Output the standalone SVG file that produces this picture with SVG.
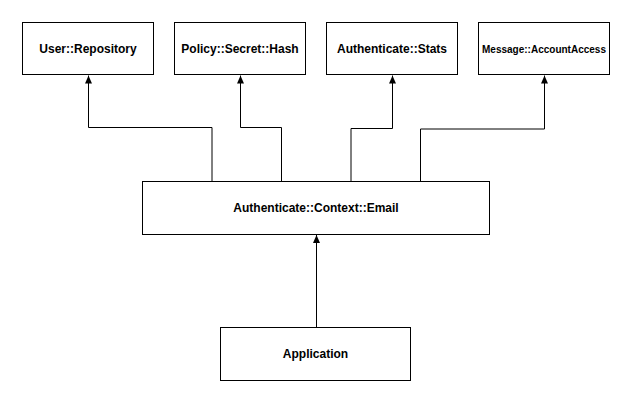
<svg xmlns="http://www.w3.org/2000/svg" width="631" height="402" viewBox="0 0 631 402">
<style>
.box{fill:#fff;stroke:#000;stroke-width:1}
.lbl{font-family:"Liberation Sans",Arial,sans-serif;font-weight:bold;font-size:12px;fill:#000;text-anchor:middle;dominant-baseline:central}
.edge{fill:none;stroke:#000;stroke-width:1}
</style>
<defs>
<marker id="ah" markerWidth="8" markerHeight="8" viewBox="0 0 8 8" refX="8" refY="4" orient="auto" markerUnits="userSpaceOnUse">
<path d="M0,0.5 L8,4 L0,7.5 Z" fill="#000"/>
</marker>
</defs>
<rect width="631" height="402" fill="#fff"/>
<g id="connectors">
<path class="edge" d="M212,181.5 V127.5 H88.5 V75.5" marker-end="url(#ah)"/>
<path class="edge" d="M281.5,181.5 V127.5 H240.5 V75.5" marker-end="url(#ah)"/>
<path class="edge" d="M351,181.5 V128.5 H392.5 V75.5" marker-end="url(#ah)"/>
<path class="edge" d="M420.5,181.5 V129 H544.5 V75.5" marker-end="url(#ah)"/>
<path class="edge" d="M316.5,327.5 V235" marker-end="url(#ah)"/>
</g>
<g id="user-repository">
<rect class="box" x="22.5" y="22.5" width="131" height="52"/>
<text class="lbl" x="88" y="48.5">User::Repository</text>
</g>
<g id="policy-secret-hash">
<rect class="box" x="174.5" y="22.5" width="131" height="52"/>
<text class="lbl" x="240" y="48.5">Policy::Secret::Hash</text>
</g>
<g id="authenticate-stats">
<rect class="box" x="326.5" y="22.5" width="131" height="52"/>
<text class="lbl" x="392" y="48.5">Authenticate::Stats</text>
</g>
<g id="message-accountaccess">
<rect class="box" x="478.5" y="22.5" width="131" height="52"/>
<text class="lbl" x="544" y="49" style="font-size:10px">Message::AccountAccess</text>
</g>
<g id="authenticate-context-email">
<rect class="box" x="142.5" y="181.5" width="347" height="53"/>
<text class="lbl" x="316" y="208">Authenticate::Context::Email</text>
</g>
<g id="application">
<rect class="box" x="220.5" y="327.5" width="190" height="53"/>
<text class="lbl" x="315.5" y="354">Application</text>
</g>
</svg>
